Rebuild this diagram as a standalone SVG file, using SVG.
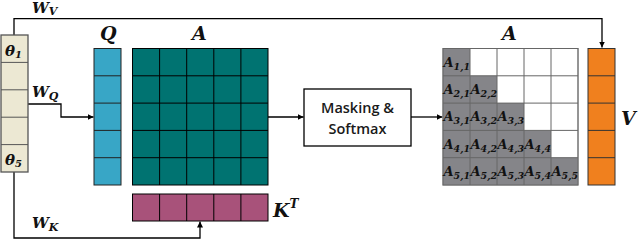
<svg xmlns="http://www.w3.org/2000/svg" width="640" height="240" viewBox="0 0 640 240">
<defs>
<marker id="arr" viewBox="0 0 10 10" refX="10" refY="5" markerWidth="6" markerHeight="6" markerUnits="userSpaceOnUse" orient="auto"><path d="M0,0 L10,5 L0,10 z" fill="#000"/></marker>
</defs>
<style>
.m{font-family:"DejaVu Serif","Liberation Serif",serif;font-weight:bold;font-style:italic;fill:#111}
.s{font-family:"Open Sans","Liberation Sans",sans-serif;font-weight:600;fill:#1a1a1a}
.ln{fill:none;stroke:#000;stroke-width:1.3}
.gl{stroke:#000;stroke-width:1}
.cell{font-family:"DejaVu Serif","Liberation Serif",serif;font-weight:bold;font-style:italic;font-size:13px;fill:#111}
.sub{font-size:9.5px}
</style>
<rect width="640" height="240" fill="#fff"/>
<g id="connectors">
<path class="ln" d="M14,35 V18.7 H602 V47.5" marker-end="url(#arr)"/>
<path class="ln" d="M28,104 H61 V117 H93.5" marker-end="url(#arr)"/>
<path class="ln" d="M14,172 V238 H200 V221.5" marker-end="url(#arr)"/>
<path class="ln" d="M268,117 H303.5" marker-end="url(#arr)"/>
<path class="ln" d="M411,117 H442.5" marker-end="url(#arr)"/>
<text class="m" x="32" y="13" font-size="15">W<tspan font-size="11" dy="2">V</tspan></text>
<text class="m" x="32" y="97" font-size="15">W<tspan font-size="11" dy="3">Q</tspan></text>
<text class="m" x="32" y="228" font-size="15">W<tspan font-size="11" dy="3">K</tspan></text>
</g>
<g id="theta">
<rect x="1" y="35" width="27" height="137" fill="#ECE8D3" stroke="#555" stroke-width="1.3"/>
<path d="M1,62.4 H28 M1,89.8 H28 M1,117.2 H28 M1,144.6 H28" stroke="#555" stroke-width="1"/>
<text class="m" x="5" y="56" font-size="15">θ<tspan font-size="10" dy="2">1</tspan></text>
<text class="m" x="5" y="165" font-size="15">θ<tspan font-size="10" dy="2">5</tspan></text>
</g>
<g id="Q">
<rect x="94" y="48.5" width="27" height="136.5" fill="#38A6C6" stroke="#222" stroke-width="1"/>
<path d="M94,75.8 H121 M94,103.1 H121 M94,130.4 H121 M94,157.7 H121" stroke="#222" stroke-width="1"/>
<text class="m" x="100" y="40" font-size="19">Q</text>
</g>
<g id="A">
<rect x="132.5" y="48.5" width="135.5" height="136.5" fill="#007371" stroke="#000" stroke-width="1"/>
<path class="gl" d="M132.5,75.8 H268 M132.5,103.1 H268 M132.5,130.4 H268 M132.5,157.7 H268 M159.6,48.5 V185 M186.7,48.5 V185 M213.8,48.5 V185 M240.9,48.5 V185"/>
<text class="m" x="192" y="40" font-size="19">A</text>
</g>
<g id="KT">
<rect x="132.5" y="194" width="135.5" height="27" fill="#A8527A" stroke="#000" stroke-width="1"/>
<path class="gl" d="M159.6,194 V221 M186.7,194 V221 M213.8,194 V221 M240.9,194 V221"/>
<text class="m" x="273" y="217" font-size="19">K<tspan font-size="12" dy="-9">T</tspan></text>
</g>
<g id="masking">
<rect x="304" y="89" width="107" height="57" fill="#fff" stroke="#000" stroke-width="1.3"/>
<text class="s" x="357.5" y="113" font-size="14.5" text-anchor="middle">Masking &amp;</text>
<text class="s" x="357.5" y="134" font-size="14.5" text-anchor="middle">Softmax</text>
</g>
<g id="A2">
<rect x="443" y="48.5" width="135" height="136.5" fill="#fff" stroke="#888" stroke-width="1"/>
<path fill="#858589" d="M443,48.5 H470 V75.8 H497 V103.1 H524 V130.4 H551 V157.7 H578 V185 H443 Z"/>
<path d="M443,75.8 H578 M443,103.1 H578 M443,130.4 H578 M443,157.7 H578 M470,48.5 V185 M497,48.5 V185 M524,48.5 V185 M551,48.5 V185" stroke="#666" stroke-width="1"/>
<rect x="443" y="48.5" width="135" height="136.5" fill="none" stroke="#666" stroke-width="1"/>
<text class="m" x="502" y="40" font-size="19">A</text>
<g class="cell">
<text x="443.5" y="67">A<tspan class="sub" dy="3">1,1</tspan></text>
<text x="443.5" y="94">A<tspan class="sub" dy="3">2,1</tspan></text>
<text x="470.5" y="94">A<tspan class="sub" dy="3">2,2</tspan></text>
<text x="443.5" y="121">A<tspan class="sub" dy="3">3,1</tspan></text>
<text x="470.5" y="121">A<tspan class="sub" dy="3">3,2</tspan></text>
<text x="497.5" y="121">A<tspan class="sub" dy="3">3,3</tspan></text>
<text x="443.5" y="149">A<tspan class="sub" dy="3">4,1</tspan></text>
<text x="470.5" y="149">A<tspan class="sub" dy="3">4,2</tspan></text>
<text x="497.5" y="149">A<tspan class="sub" dy="3">4,3</tspan></text>
<text x="524.5" y="149">A<tspan class="sub" dy="3">4,4</tspan></text>
<text x="443.5" y="176">A<tspan class="sub" dy="3">5,1</tspan></text>
<text x="470.5" y="176">A<tspan class="sub" dy="3">5,2</tspan></text>
<text x="497.5" y="176">A<tspan class="sub" dy="3">5,3</tspan></text>
<text x="524.5" y="176">A<tspan class="sub" dy="3">5,4</tspan></text>
<text x="551.5" y="176">A<tspan class="sub" dy="3">5,5</tspan></text>
</g>
</g>
<g id="V">
<rect x="588" y="48.5" width="27" height="136.5" fill="#F0801E" stroke="#333" stroke-width="1"/>
<path d="M588,75.8 H615 M588,103.1 H615 M588,130.4 H615 M588,157.7 H615" stroke="#333" stroke-width="1"/>
<text class="m" x="621" y="125" font-size="19">V</text>
</g>
</svg>
